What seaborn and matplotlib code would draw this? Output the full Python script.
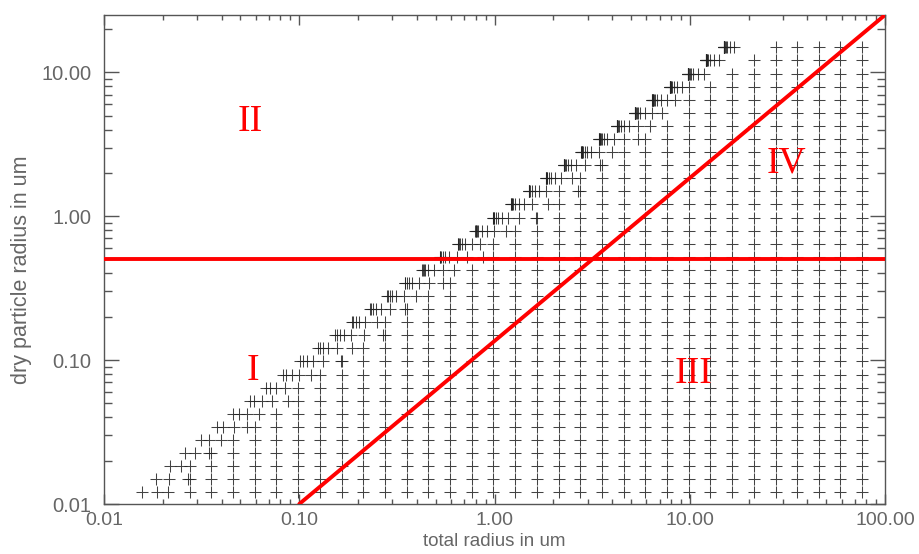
import numpy as np
import pandas as pd
import matplotlib
matplotlib.use("Agg")
import matplotlib.pyplot as plt
import seaborn as sns
from matplotlib.ticker import FixedLocator, NullFormatter, LogLocator

# ---- data ----
dry_radius = [0.0121, 0.0149, 0.0183, 0.0226, 0.0278, 0.0343, 0.0423, 0.0522, 0.0643,
              0.0793, 0.0978, 0.121, 0.149, 0.183, 0.226, 0.278, 0.343, 0.423, 0.522,
              0.643, 0.793, 0.978, 1.21, 1.49, 1.83, 2.26, 2.78, 3.43, 4.23, 5.22,
              6.43, 7.93, 9.78, 12.1, 14.9]
total_columns = [76.4, 59.1, 45.8, 35.5, 27.5, 21.3, 16.5, 12.7, 9.87, 7.64, 5.91, 4.58,
                 3.55, 2.75, 2.13, 1.65, 1.27, 0.987, 0.764, 0.591, 0.458, 0.355, 0.275,
                 0.213, 0.165, 0.127, 0.0987, 0.0764, 0.0591, 0.0458, 0.0355, 0.0275,
                 0.0213, 0.0165, 0.0127]
shell_thickness = [0.0035, 0.0066, 0.012, 0.02, 0.035, 0.066, 0.12, 0.2, 0.35, 0.66, 1.2, 2.0]

diag_x = [0.1, 100.0]
diag_y = [0.01, 25.0]
cut_y = 0.5
cut_x = [0.01, 100.0]

regions = ["II", "I", "III", "IV"]
region_x = [0.0559, 0.058, 10.5, 31.4]
region_y = [4.5, 0.0848, 0.0807, 2.34]

x_ticks = [0.01, 0.1, 1.0, 10.0, 100.0]
x_labels = ["0.01", "0.10", "1.00", "10.00", "100.00"]
y_ticks = [0.01, 0.1, 1.0, 10.0]
y_labels = ["0.01", "0.10", "1.00", "10.00"]

# ---- build point table ----
pts_x, pts_y = [], []
for rd in dry_radius:
    cols = sorted(c for c in total_columns if c >= rd * 1.5)
    first = cols[0] if cols else 1e9
    for d in shell_thickness:
        if rd + d < first:
            pts_x.append(rd + d)
            pts_y.append(rd)
    for c in cols:
        pts_x.append(c)
        pts_y.append(rd)
grid = pd.DataFrame({"total": pts_x, "dry": pts_y})

# ---- figure ----
sns.set_theme(style="white")
plt.rcParams["font.family"] = ["Liberation Sans", "DejaVu Sans"]
fig = plt.figure(figsize=(9.19, 5.54), dpi=100)
ax = fig.add_axes([104 / 919, 1 - 504 / 554, (885 - 104) / 919, (504 - 15) / 554])

sns.scatterplot(data=grid, x="total", y="dry", marker="+", color="#222222",
                s=80, linewidth=0.75, alpha=0.85, ax=ax, legend=False, zorder=2)

sns.lineplot(x=cut_x, y=[cut_y, cut_y], color="red", linewidth=2.8, ax=ax,
             zorder=3, estimator=None, sort=False)
sns.lineplot(x=diag_x, y=diag_y, color="red", linewidth=2.8, ax=ax,
             zorder=3, estimator=None, sort=False)

ax.set_xscale("log")
ax.set_yscale("log")
ax.set_xlim(0.01, 100.0)
ax.set_ylim(0.01, 25.0)

for name, rx, ry in zip(regions, region_x, region_y):
    ax.text(rx, ry, name, color="red", fontsize=27, family=["Liberation Serif"],
            ha="center", va="center", zorder=4)

ax.xaxis.set_major_locator(FixedLocator(x_ticks))
ax.set_xticklabels(x_labels)
ax.yaxis.set_major_locator(FixedLocator(y_ticks))
ax.set_yticklabels(y_labels)
ax.xaxis.set_minor_locator(LogLocator(base=10, subs=np.arange(2, 10)))
ax.yaxis.set_minor_locator(LogLocator(base=10, subs=np.arange(2, 10)))
ax.xaxis.set_minor_formatter(NullFormatter())
ax.yaxis.set_minor_formatter(NullFormatter())

axis_col = "#555555"
text_col = "#666666"
for sp in ax.spines.values():
    sp.set_color(axis_col)
    sp.set_linewidth(1.0)
ax.tick_params(axis="x", which="major", direction="in", length=7, width=1,
               color=axis_col, top=True, bottom=True, labelsize=14,
               labelcolor=text_col, pad=6)
ax.tick_params(axis="x", which="minor", direction="in", length=3.5, width=1,
               color=axis_col, top=True, bottom=True)
ax.tick_params(axis="y", which="major", direction="in", length=11, width=1,
               color=axis_col, left=True, right=True, labelsize=14.5,
               labelcolor=text_col, pad=9)
ax.tick_params(axis="y", which="minor", direction="in", length=5.5, width=1,
               color=axis_col, left=True, right=True)

ax.set_xlabel("total radius in um", fontsize=13.5, color=text_col)
ax.xaxis.set_label_coords(0.5, -0.059)
ax.set_ylabel("dry particle radius in um", fontsize=15.5, color=text_col)
ax.yaxis.set_label_coords(-0.092, 0.48)

fig.savefig("out.png", dpi=100)
